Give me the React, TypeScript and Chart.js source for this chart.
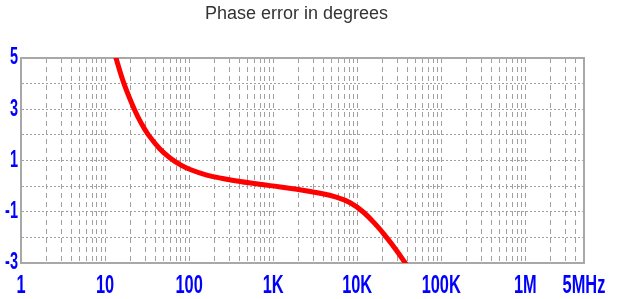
import { useEffect, useRef } from "react";
import { Chart, registerables } from "chart.js";

Chart.register(...registerables);

const TITLE = "Phase error in degrees";

// Frequency (Hz) and phase error (degrees)
const FREQ_HZ = [12.3, 13.5, 16.8, 22.3, 27, 32.8, 45, 59.4, 80, 103, 162, 250, 405, 921, 1915, 3630, 5500, 8260, 11900, 17200, 22600, 29700, 37250, 42000];
const PHASE_DEG = [5.5, 5, 4, 3, 2.45, 2, 1.45, 1.1, 0.82, 0.65, 0.43, 0.3, 0.18, 0.02, -0.12, -0.28, -0.42, -0.65, -1.02, -1.55, -2.02, -2.53, -3.0, -3.27];

const X_MIN = 1;
const X_MAX = 5e6;
const X_TICK_VALUES = [1, 10, 100, 1e3, 1e4, 1e5, 1e6, 5e6];
const X_TICK_LABELS = ["1", "10", "100", "1K", "10K", "100K", "1M", "5MHz"];

const Y_MIN = -3;
const Y_MAX = 5;
const Y_TICK_LABELS = [5, 3, 1, -1, -3];

const TICK_FONT = "'Liberation Sans', Arial, sans-serif";
const TICK_STRETCH = 0.63;
const BLUE = "#0000ff";
const GRID = "#a0a0a0";

// solid frame around the plot area
const frameBox = {
  id: "frameBox",
  beforeDatasetsDraw(chart: any) {
    const { ctx, chartArea } = chart;
    ctx.save();
    ctx.strokeStyle = "#a8a8a8";
    ctx.lineWidth = 2;
    ctx.setLineDash([]);
    ctx.strokeRect(chartArea.left, chartArea.top, chartArea.right - chartArea.left, chartArea.bottom - chartArea.top);
    ctx.restore();
  },
};

// draws the bold tick labels horizontally condensed (narrow face)
const condensedTicks = {
  id: "condensedTicks",
  beforeDraw(chart: any) {
    const ctx = chart.ctx;
    if (ctx.__origFillText) return;
    const orig = ctx.fillText;
    ctx.__origFillText = orig;
    ctx.fillText = function (text: string, x: number, y: number, maxWidth?: number) {
      if (/bold|700/.test(this.font)) {
        this.save();
        this.translate(x, y);
        this.scale(TICK_STRETCH, 1);
        orig.call(this, text, 0, 0);
        this.restore();
      } else if (maxWidth !== undefined) {
        orig.call(this, text, x, y, maxWidth);
      } else {
        orig.call(this, text, x, y);
      }
    };
  },
  afterDraw(chart: any) {
    const ctx = chart.ctx;
    if (ctx.__origFillText) {
      ctx.fillText = ctx.__origFillText;
      delete ctx.__origFillText;
    }
  },
};

export default function App() {
  const ref = useRef<HTMLCanvasElement | null>(null);

  useEffect(() => {
    if (!ref.current) return;
    const chart = new Chart(ref.current, {
      type: "line",
      data: {
        datasets: [
          {
            label: "Phase error",
            data: FREQ_HZ.map((f, i) => ({ x: f, y: PHASE_DEG[i] })),
            borderColor: "#ff0000",
            borderWidth: 5,
            pointRadius: 0,
            fill: false,
            tension: 0.4,
          },
        ],
      },
      options: {
        animation: false,
        responsive: false,
        layout: { padding: { left: 0, right: 32, top: 0, bottom: 0 } },
        plugins: {
          legend: { display: false },
          tooltip: { enabled: false },
          title: {
            display: true,
            text: TITLE,
            color: "#333333",
            font: { family: "'Liberation Sans', Arial, sans-serif", size: 18, weight: "normal", lineHeight: 1.2 },
            padding: { top: 3, bottom: 33.4 },
          },
        },
        scales: {
          x: {
            type: "logarithmic",
            min: X_MIN,
            max: X_MAX,
            afterBuildTicks: (scale: any) => {
              const ticks: any[] = [];
              for (let p = 1; p <= X_MAX; p *= 10) {
                for (let m = 1; m <= 9; m++) {
                  const v = m * p;
                  if (v >= X_MIN && v <= X_MAX) ticks.push({ value: v });
                }
              }
              scale.ticks = ticks;
            },
            afterFit: (scale: any) => {
              scale.height = 36;
              scale.paddingRight = 41;
              scale.paddingLeft = 0;
            },
            ticks: {
              autoSkip: false,
              maxRotation: 0,
              minRotation: 0,
              padding: 7,
              color: BLUE,
              font: { family: TICK_FONT, size: 26, weight: "bold" },
              callback: (value: any) => {
                const v = Number(value);
                const idx = X_TICK_VALUES.findIndex((t) => Math.abs(t - v) / t < 1e-9);
                return idx >= 0 ? X_TICK_LABELS[idx] : "";
              },
            },
            grid: { color: GRID, lineWidth: 1, drawTicks: false },
            border: { display: true, color: "#a8a8a8", width: 2, dash: [5, 4] },
          },
          y: {
            type: "linear",
            min: Y_MIN,
            max: Y_MAX,
            afterFit: (scale: any) => {
              scale.width = 21;
              scale.paddingTop = 0;
              scale.paddingBottom = 0;
            },
            ticks: {
              autoSkip: false,
              stepSize: 1,
              padding: 3,
              color: BLUE,
              font: { family: TICK_FONT, size: 23, weight: "bold" },
              callback: (value: any) => {
                const v = Number(value);
                return Y_TICK_LABELS.includes(v) ? String(v) : "";
              },
            },
            grid: { color: GRID, lineWidth: 1, drawTicks: false },
            border: { display: true, color: "#a8a8a8", width: 2, dash: [2, 2] },
          },
        },
      },
      plugins: [frameBox, condensedTicks],
    });
    return () => chart.destroy();
  }, []);

  return (
    <div style={{ position: "absolute", left: 0, top: 0, width: 625, height: 299, background: "#ffffff" }}>
      <canvas ref={ref} width={625} height={299} style={{ display: "block", width: 625, height: 299 }} />
    </div>
  );
}
